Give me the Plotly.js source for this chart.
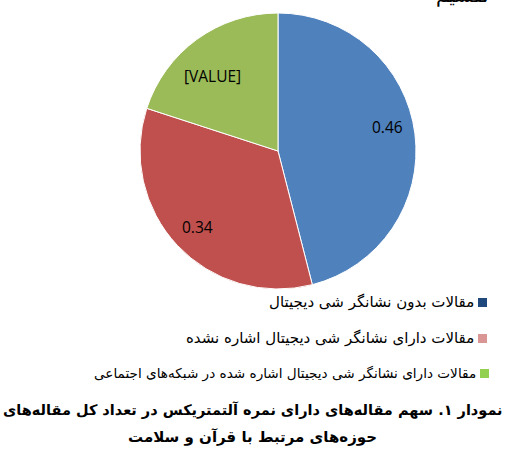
<!DOCTYPE html>
<html>
<head>
<meta charset="utf-8">
<script src="https://cdn.plot.ly/plotly-3.0.1.min.js"></script>
<style>html,body{margin:0;padding:0;background:#fff;}#chart{width:505px;height:450px;}</style>
</head>
<body>
<div id="chart"></div>
<script>
const categories = [
  "مقالات بدون نشانگر شی دیجیتال",
  "مقالات دارای نشانگر شی دیجیتال اشاره نشده",
  "مقالات دارای نشانگر شی دیجیتال اشاره شده در شبکه‌های اجتماعی"
];
const values = [0.46, 0.34, 0.20];
const valueLabels = ["0.46", "0.34", "[VALUE]"];
const sliceColors = ["#4F81BD", "#C0504D", "#9BBB59"];
const legendColors = ["#1F497D", "#D99694", "#92D050"];
const captionLines = [
  "<b>نمودار ۱. سهم مقاله‌های دارای نمره آلتمتریکس در تعداد کل مقاله‌های</b>",
  "<b>حوزه‌های مرتبط با قرآن و سلامت</b>"
];
const topText = "تقسیم";

const W = 505, H = 450;
const px = x => x / W, py = y => 1 - y / H;

// pie geometry (pixels)
const cx = 278, cy = 151, R = 138;

const legendY = [302, 338, 373];
const legendSqX = [478, 478, 480];
const legendSizes = [15, 15, 13.6];

const shapes = categories.map((c, i) => ({
  type: "rect", xref: "paper", yref: "paper",
  x0: px(legendSqX[i]), x1: px(legendSqX[i] + 9),
  y0: py(legendY[i] + 5), y1: py(legendY[i] - 4),
  fillcolor: legendColors[i], line: {width: 0}
}));

const annotations = categories.map((c, i) => ({
  xref: "paper", yref: "paper",
  x: px(legendSqX[i] - 2), y: py(legendY[i]),
  xanchor: "right", yanchor: "middle",
  text: c, showarrow: false,
  font: {family: "DejaVu Sans, sans-serif", size: legendSizes[i], color: "#000"}
}));

// data labels placed near slice mid-angle (derived from values)
const total = values.reduce((a, b) => a + b, 0);
const labelRadius = [0.81, 0.8, 0.72];
const labelAngleShift = [-5, 0, -5];
let cum = 0;
values.forEach((v, i) => {
  const mid = (cum + v / 2) / total * 2 * Math.PI + labelAngleShift[i] * Math.PI / 180;
  cum += v;
  const lx = cx + labelRadius[i] * R * Math.sin(mid);
  const ly = cy - labelRadius[i] * R * Math.cos(mid);
  annotations.push({
    xref: "paper", yref: "paper", x: px(lx), y: py(ly),
    xanchor: "center", yanchor: "middle", text: valueLabels[i], showarrow: false,
    font: {family: "Open Sans, Liberation Sans, sans-serif", size: 15.5, color: "#000"}
  });
});

annotations.push({
  xref: "paper", yref: "paper", x: 0.5, y: py(410), xanchor: "center", yanchor: "middle",
  text: captionLines[0], showarrow: false,
  font: {family: "DejaVu Sans, sans-serif", size: 14.5, color: "#000"}
});
annotations.push({
  xref: "paper", yref: "paper", x: 0.5, y: py(437), xanchor: "center", yanchor: "middle",
  text: captionLines[1], showarrow: false,
  font: {family: "DejaVu Sans, sans-serif", size: 15, color: "#000"}
});
annotations.push({
  xref: "paper", yref: "paper", x: px(462), y: py(-5), xanchor: "center", yanchor: "middle",
  text: topText, showarrow: false,
  font: {family: "DejaVu Sans, sans-serif", size: 20, color: "#000"}
});

const data = [{
  type: "pie",
  values: values,
  labels: categories,
  textinfo: "none",
  sort: false,
  direction: "clockwise",
  rotation: 0,
  marker: {colors: sliceColors, line: {color: "#ffffff", width: 1}},
  domain: {x: [px(cx - R), px(cx + R)], y: [py(cy + R), py(cy - R)]},
  showlegend: false,
  hoverinfo: "label+value"
}];

const layout = {
  width: W, height: H,
  margin: {l: 0, r: 0, t: 0, b: 0},
  paper_bgcolor: "#fff",
  showlegend: false,
  shapes: shapes,
  annotations: annotations
};

Plotly.newPlot("chart", data, layout, {displayModeBar: false, staticPlot: true});
</script>
</body>
</html>
